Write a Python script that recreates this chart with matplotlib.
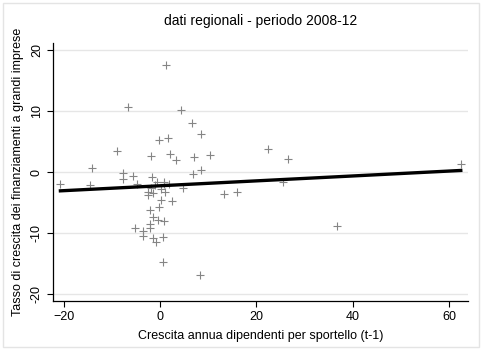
import numpy as np
import matplotlib
matplotlib.use('Agg')
import matplotlib.pyplot as plt
from matplotlib.patches import Rectangle

# Regional data
x = [1.2, -6.7, 4.4, 6.7, 8.4, -0.2, 1.7, -8.9, -1.8, 2.0,
     3.3, 7.0, 10.3, -14.2, 8.4, -7.7, 6.8, -5.6, -7.7, -1.7,
     -20.7, -14.6, -4.7, -0.7, 0.8, 1.8, 0.8, -1.1, 4.8, -1.9,
     0.1, -2.6, -1.5, -2.5, 1.0, 0.2, 2.4, -0.3, -2.1, -1.5,
     -2.1, -0.4, 0.8, -2.2, -5.3, -3.5, -3.5, -1.5, -0.8, 0.5,
     0.6, 8.2, 13.3, 15.9, 22.3, 26.5, 25.6, 36.7, 62.4]
y = [17.5, 10.6, 10.1, 8.0, 6.2, 5.3, 5.5, 3.4, 2.7, 2.9,
     1.9, 2.4, 2.8, 0.65, 0.4, -0.2, -0.3, -0.7, -1.2, -0.8,
     -1.9, -2.2, -1.9, -1.7, -1.6, -1.9, -2.0, -2.2, -2.7, -2.7,
     -2.8, -3.2, -3.5, -3.7, -3.3, -4.6, -4.8, -5.8, -6.3, -7.4,
     -8.5, -7.9, -8.1, -9.1, -9.2, -9.7, -10.5, -10.8, -11.4, -10.6,
     -14.8, -16.9, -3.6, -3.3, 3.8, 2.1, -1.7, -8.9, 1.3]

xticks = [-20, 0, 20, 40, 60]
yticks = [-20, -10, 0, 10, 20]

title = 'dati regionali - periodo 2008-12'
xlabel = 'Crescita annua dipendenti per sportello (t-1)'
ylabel = 'Tasso di crescita dei finanziamenti a grandi imprese'

plt.rcParams['font.family'] = ['Liberation Sans', 'DejaVu Sans']

W, H = 484, 351
fig = plt.figure(figsize=(W / 100, H / 100), dpi=100)
fig.patches.append(Rectangle((3 / W, 4 / H), 476 / W, 344 / H, transform=fig.transFigure,
                             fill=False, edgecolor='#e4e4e4', linewidth=1))

ax = fig.add_axes([52.7 / W, 1 - 301 / H, (468 - 52.7) / W, (301 - 43) / H])

ax.scatter(x, y, marker='+', s=32, color='#858585', linewidths=0.8, zorder=3)

# linear fit
b, a = np.polyfit(x, y, 1)
xs = np.array([min(x), max(x)])
ax.plot(xs, a + b * xs, color='black', linewidth=2.4, zorder=4)

ax.set_xlim(-22.3, 63.9)
ax.set_ylim(-21.15, 21.15)
ax.set_xticks(xticks)
ax.set_yticks(yticks)
ax.set_yticklabels([str(v) for v in yticks], rotation=90, va='center')
ax.tick_params(axis='both', direction='out', length=4, width=0.8, labelsize=9,
               colors='black', pad=3)
ax.grid(axis='y', color='#e6e6e6', linewidth=1)
ax.set_axisbelow(True)
for s in ['top', 'right']:
    ax.spines[s].set_visible(False)
for s in ['left', 'bottom']:
    ax.spines[s].set_linewidth(0.9)

ax.set_title(title, fontsize=10, pad=13)
ax.set_xlabel(xlabel, fontsize=9, labelpad=5)
ax.set_ylabel(ylabel, fontsize=9, labelpad=5)

fig.savefig('out.png', dpi=100)
